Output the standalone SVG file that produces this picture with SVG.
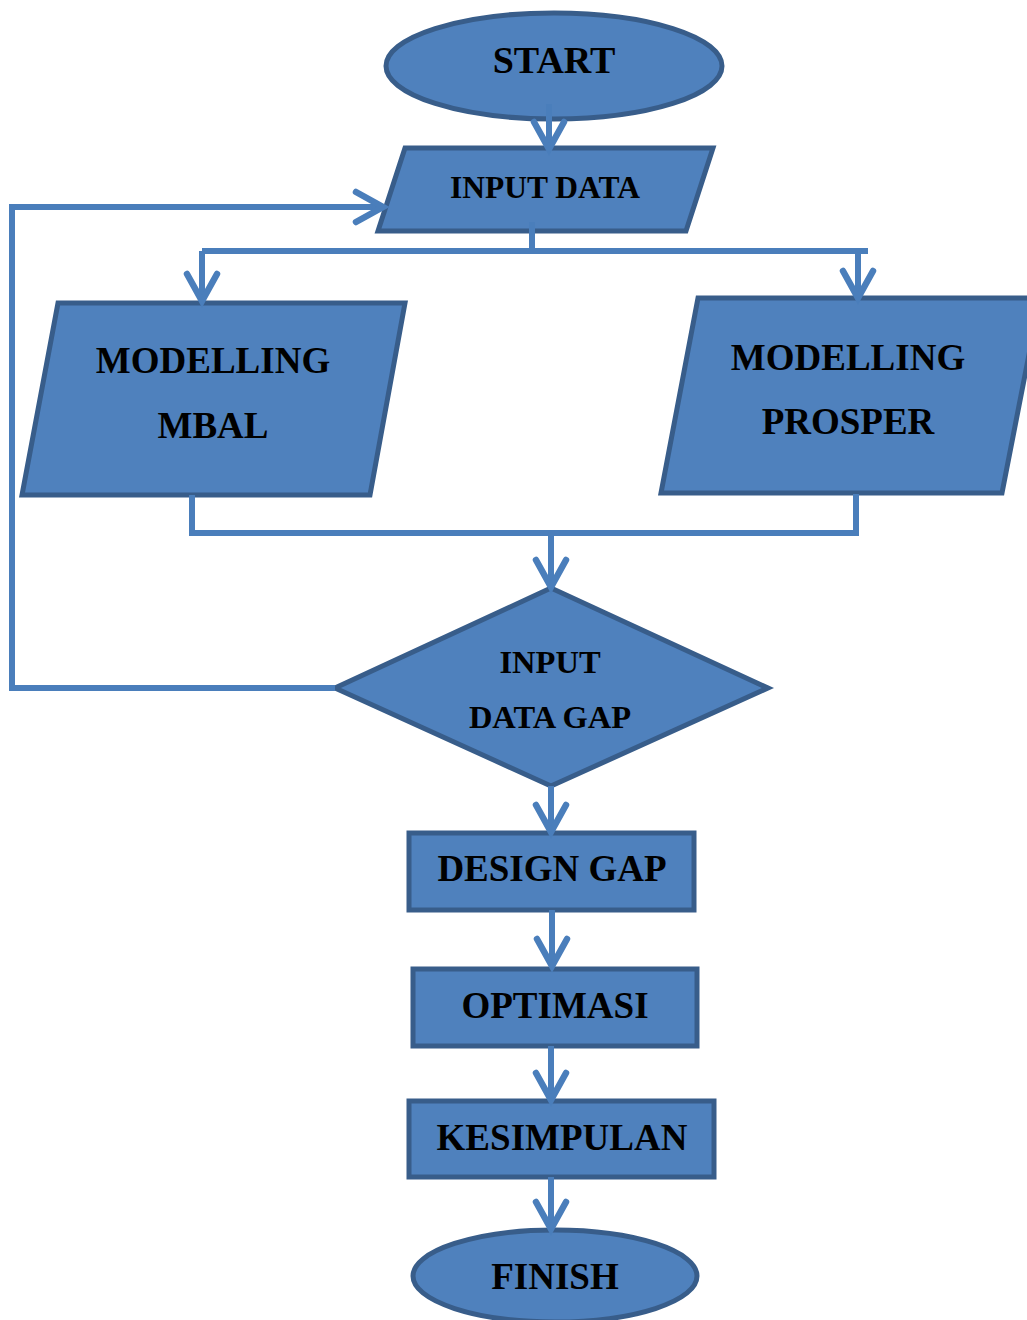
<svg xmlns="http://www.w3.org/2000/svg" width="1027" height="1320" viewBox="0 0 1027 1320">
<style>
.n{fill:#4F81BD;stroke:#385D8A;stroke-width:5}
.t{font-family:"Liberation Serif","Times New Roman",serif;font-weight:bold;fill:#000;text-anchor:middle}
.c{fill:none;stroke:#4A7EBB;stroke-width:6}
</style>
<defs>
<marker id="chev" markerUnits="userSpaceOnUse" viewBox="-34 -22 40 44" refX="0" refY="0" markerWidth="40" markerHeight="44" orient="auto" overflow="visible">
<path d="M-27,-15 L0,0 L-27,15" fill="none" stroke="#4A7EBB" stroke-width="6.5" stroke-linecap="round" stroke-linejoin="miter"/>
</marker>
</defs>
<rect width="1027" height="1320" fill="#fff"/>
<g id="start">
<ellipse class="n" cx="554" cy="66" rx="168" ry="53"/>
<text class="t" x="554" y="73" font-size="38">START</text>
</g>
<g id="input-data">
<polygon class="n" points="405,148 713,148 686,231 378,231"/>
<text class="t" x="545" y="198" font-size="31.5">INPUT DATA</text>
</g>
<g id="modelling-mbal">
<polygon class="n" points="58,303 405,303 370,495 22,495"/>
<text class="t" x="213" y="373" font-size="37">MODELLING</text>
<text class="t" x="213" y="438" font-size="37">MBAL</text>
</g>
<g id="modelling-prosper">
<polygon class="n" points="698,298 1040,298 1002,493 661,493"/>
<text class="t" x="848" y="370" font-size="37">MODELLING</text>
<text class="t" x="848" y="434" font-size="37">PROSPER</text>
</g>
<g id="input-data-gap">
<polygon class="n" points="551,588 768,688 551,786 335,688"/>
<text class="t" x="550" y="673" font-size="32.5">INPUT</text>
<text class="t" x="550" y="728" font-size="32.5">DATA GAP</text>
</g>
<g id="design-gap">
<rect class="n" x="409" y="833" width="285" height="77"/>
<text class="t" x="552" y="881" font-size="37">DESIGN GAP</text>
</g>
<g id="optimasi">
<rect class="n" x="413" y="969" width="284" height="77"/>
<text class="t" x="555" y="1018" font-size="37">OPTIMASI</text>
</g>
<g id="kesimpulan">
<rect class="n" x="409" y="1101" width="305" height="76"/>
<text class="t" x="562" y="1150" font-size="37">KESIMPULAN</text>
</g>
<g id="finish">
<ellipse class="n" cx="555" cy="1276" rx="142" ry="46"/>
<text class="t" x="555" y="1289" font-size="37">FINISH</text>
</g>
<g id="connectors">
<path class="c" d="M549,104 V149" marker-end="url(#chev)"/>
<path class="c" d="M532,222 V251"/>
<path class="c" d="M202,251 H868"/>
<path class="c" d="M202,251 V301" marker-end="url(#chev)"/>
<path class="c" d="M858,251 V298" marker-end="url(#chev)"/>
<path class="c" d="M192,495 V533 H856 V494"/>
<path class="c" d="M551,533 V587" marker-end="url(#chev)"/>
<path class="c" d="M335,688 H12 V207 H383" marker-end="url(#chev)"/>
<path class="c" d="M551,786 V832" marker-end="url(#chev)"/>
<path class="c" d="M552,910 V966" marker-end="url(#chev)"/>
<path class="c" d="M551,1046 V1100" marker-end="url(#chev)"/>
<path class="c" d="M551,1177 V1229" marker-end="url(#chev)"/>
</g>
</svg>
